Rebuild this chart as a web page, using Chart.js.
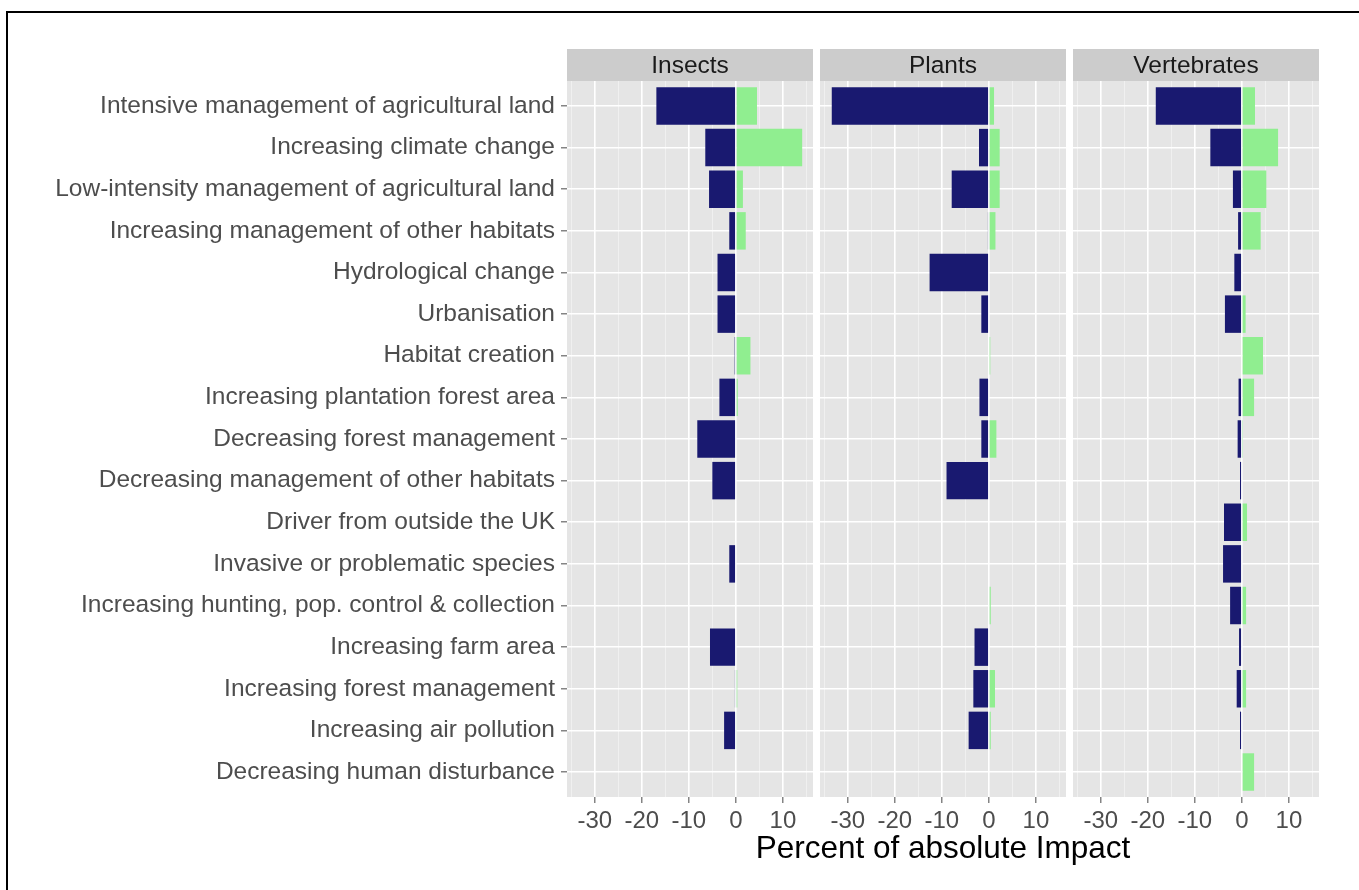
<!DOCTYPE html>
<html>
<head>
<meta charset="utf-8">
<script src="https://cdn.jsdelivr.net/npm/chart.js@4.4.0/dist/chart.umd.min.js"></script>
<style>
  body { margin: 0; background: #fff; }
  #wrap { position: relative; width: 1359px; height: 890px; overflow: hidden; }
  canvas { position: absolute; left: 0; top: 0; }
  #frame { position: absolute; left: 6px; top: 11px; width: 1400px; height: 900px;
           border-left: 2px solid #000; border-top: 2px solid #000; }
  #xtitle { position: absolute; left: 0; width: 1886px; top: 829px; text-align: center;
            font: 31.5px "Liberation Sans", Arial, sans-serif; color: #000; }
</style>
</head>
<body>
<div id="wrap">
  <div id="frame"></div>
  <canvas id="cInsects" width="1359" height="890"></canvas>
  <canvas id="cPlants" width="1359" height="890"></canvas>
  <canvas id="cVert" width="1359" height="890"></canvas>
  <div id="xtitle">Percent of absolute Impact</div>
</div>
<script>
// categorias, de arriba hacia abajo
const drivers = [
    'Intensive management of agricultural land',
    'Increasing climate change',
    'Low-intensity management of agricultural land',
    'Increasing management of other habitats',
    'Hydrological change',
    'Urbanisation',
    'Habitat creation',
    'Increasing plantation forest area',
    'Decreasing forest management',
    'Decreasing management of other habitats',
    'Driver from outside the UK',
    'Invasive or problematic species',
    'Increasing hunting, pop. control & collection',
    'Increasing farm area',
    'Increasing forest management',
    'Increasing air pollution',
    'Decreasing human disturbance'
];

const panels = ['Insects', 'Plants', 'Vertebrates'];

// valores negativos (azul) y positivos (verde) por panel
const insectsNeg = [-16.9, -6.5, -5.7, -1.4, -3.9, -3.9, -0.25, -3.5, -8.2, -5.0, 0, -1.4, 0, -5.5, -0.2, -2.5, 0];
const insectsPos = [4.5, 14.1, 1.5, 2.1, 0, 0, 3.1, 0.4, 0, 0, 0, 0, 0, 0, 0.3, 0.15, 0];

const plantsNeg = [-33.4, -2.1, -7.9, -0.2, -12.6, -1.6, 0, -2.0, -1.6, -9.0, 0, 0, 0, -3.05, -3.3, -4.3, 0];
const plantsPos = [1.1, 2.3, 2.3, 1.4, 0, 0, 0.3, 0, 1.6, 0, 0, 0, 0.4, 0, 1.3, 0.4, 0];

const vertNeg = [-18.3, -6.7, -1.9, -0.8, -1.6, -3.6, 0, -0.7, -0.9, -0.4, -3.8, -4.0, -2.5, -0.6, -1.1, -0.4, 0];
const vertPos = [2.8, 7.7, 5.2, 4.0, 0, 0.8, 4.5, 2.6, 0.1, 0, 1.1, 0, 0.9, 0, 0.9, 0, 2.6];

const xTicks = [-30, -20, -10, 0, 10];

const FONT = '"Liberation Sans", Arial, sans-serif';

// fondo gris del panel y la franja con el titulo
const panelPlugin = {
    id: 'panelBg',
    beforeDraw(chart, args, opts) {
        const a = chart.chartArea;
        const c = chart.ctx;
        c.save();
        c.fillStyle = '#E5E5E5';
        c.fillRect(a.left, a.top, a.right - a.left, a.bottom - a.top);
        c.fillStyle = '#CCCCCC';
        c.fillRect(a.left, 49, a.right - a.left, a.top - 49);
        c.fillStyle = '#1A1A1A';
        c.font = '24.5px ' + FONT;
        c.textAlign = 'center';
        c.textBaseline = 'middle';
        c.fillText(opts.label, (a.left + a.right) / 2, (49 + a.top) / 2 + 1);
        c.restore();
    }
};

function toPoints(arr) {
    return arr.map((v, i) => ({ x: v, y: i + 1 }));
}

function crearPanel(id, label, neg, pos, padLeft, padRight, showLabels) {
    return new Chart(document.getElementById(id), {
        type: 'bar',
        data: {
            datasets: [
                { data: toPoints(neg), backgroundColor: '#191970', barPercentage: 0.9, categoryPercentage: 1 },
                { data: toPoints(pos), backgroundColor: '#90EE90', barPercentage: 0.9, categoryPercentage: 1 }
            ]
        },
        options: {
            indexAxis: 'y',
            responsive: false,
            animation: false,
            devicePixelRatio: 1,
            layout: { padding: { left: padLeft, right: padRight, top: 81, bottom: 0 } },
            plugins: {
                legend: { display: false },
                tooltip: { enabled: false },
                panelBg: { label: label }
            },
            scales: {
                x: {
                    type: 'linear',
                    stacked: true,
                    min: -35.9,
                    max: 16.4,
                    afterBuildTicks: s => {
                        s.ticks = [-35, -30, -25, -20, -15, -10, -5, 0, 5, 10, 15].map(v => ({ value: v }));
                    },
                    afterFit: s => { s.height = 93; },
                    ticks: {
                        autoSkip: false,
                        maxRotation: 0,
                        padding: 4,
                        color: '#4D4D4D',
                        font: { family: FONT, size: 24 },
                        callback: v => xTicks.includes(v) ? String(v) : ''
                    },
                    grid: {
                        color: ctx => xTicks.includes(ctx.tick.value) ? '#FFFFFF' : '#F2F2F2',
                        lineWidth: ctx => xTicks.includes(ctx.tick.value) ? 1.6 : 0.8,
                        tickColor: ctx => xTicks.includes(ctx.tick.value) ? '#666666' : 'rgba(0,0,0,0)',
                        tickLength: 6,
                        tickWidth: 1.2
                    },
                    border: { display: false }
                },
                y: {
                    type: 'linear',
                    stacked: true,
                    reverse: true,
                    offset: false,
                    min: 0.4,
                    max: drivers.length + 0.6,
                    afterBuildTicks: s => {
                        s.ticks = drivers.map((d, i) => ({ value: i + 1 }));
                    },
                    afterFit: s => { s.width = showLabels ? 567 : 0; },
                    ticks: {
                        display: showLabels,
                        autoSkip: false,
                        padding: 6,
                        color: '#4D4D4D',
                        font: { family: FONT, size: 24.5 },
                        callback: v => drivers[v - 1]
                    },
                    grid: {
                        offset: false,
                        color: '#FFFFFF',
                        lineWidth: 1.6,
                        drawTicks: showLabels,
                        tickColor: '#666666',
                        tickLength: 6,
                        tickWidth: 1.2
                    },
                    border: { display: false }
                }
            }
        },
        plugins: [panelPlugin]
    });
}

crearPanel('cInsects', panels[0], insectsNeg, insectsPos, 0, 1359 - 813, true);
crearPanel('cPlants', panels[1], plantsNeg, plantsPos, 820, 1359 - 1066, false);
crearPanel('cVert', panels[2], vertNeg, vertPos, 1073, 1359 - 1319, false);
</script>
</body>
</html>
